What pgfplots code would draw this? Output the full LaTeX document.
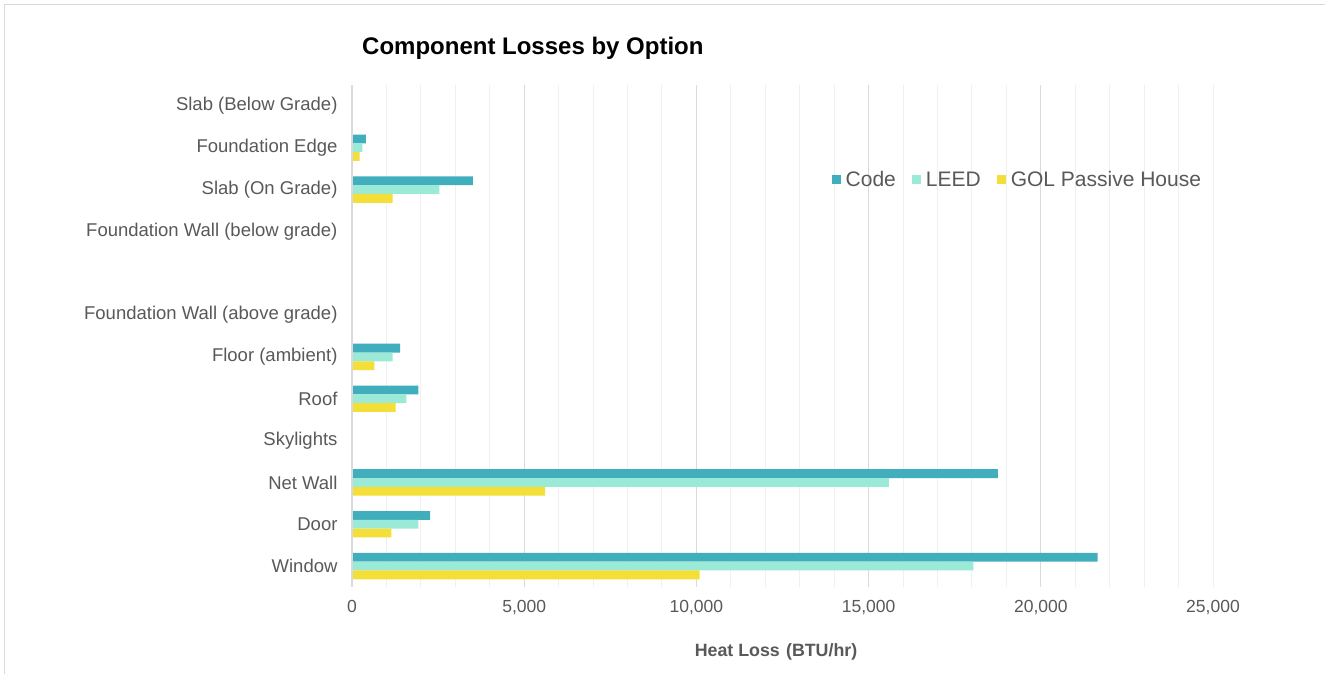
\documentclass[border=0pt]{standalone}
\usepackage{fontspec}
\setmainfont{Liberation Sans}
\usepackage{pgfplots}
\pgfplotsset{compat=1.18}

\definecolor{codecol}{HTML}{41AEBE}
\definecolor{leedcol}{HTML}{9AEAD7}
\definecolor{golcol}{HTML}{F4DE38}
\definecolor{txtgray}{HTML}{595959}
\definecolor{majgrid}{HTML}{D9D9D9}
\definecolor{mingrid}{HTML}{F0F0F0}
\definecolor{framecol}{HTML}{D9D9D9}

\begin{document}
\begin{tikzpicture}
  \useasboundingbox (0,0) rectangle (1325pt,674pt);
  \fill[white] (0,0) rectangle (1325pt,674pt);
  % chart area frame
  \draw[framecol, line width=1.5pt] (4.3pt,0) -- (4.3pt,669.5pt) -- (1325pt,669.5pt);
  % chart title
  \node[anchor=west, inner sep=0pt, font=\fontsize{24}{28}\selectfont\bfseries, text=black]
    at (362pt,626pt) {Component Losses by Option};

  \begin{axis}[
    at={(352pt,87pt)}, anchor=south west,
    scale only axis, width=861pt, height=502pt,
    xbar, bar width=8.8pt,
    xmin=0, xmax=25000,
    ymin=-0.5, ymax=11.5,
    xtick={0,5000,...,20000},
    minor xtick={1000,2000,...,24000},
    extra x ticks={25000},
    extra x tick style={major grid style={mingrid, line width=1pt}},
    xmajorgrids, xminorgrids,
    major grid style={majgrid, line width=1.2pt},
    minor grid style={mingrid, line width=1pt},
    major tick length=0pt, minor tick length=0pt,
    axis line style={draw=none},
    scaled x ticks=false,
    /pgf/number format/.cd, 1000 sep={,}, assume math mode=true, /pgfplots/.cd,
    ytick={0,...,11},
    yticklabels={Window, Door, Net Wall, Skylights, Roof, Floor (ambient),
      Foundation Wall (above grade), {}, Foundation Wall (below grade),
      Slab (On Grade), Foundation Edge, Slab (Below Grade)},
    xticklabel style={font=\fontsize{17.5}{20}\selectfont, text=txtgray, yshift=-10pt},
    yticklabel style={font=\fontsize{18.5}{21}\selectfont, text=txtgray, xshift=-11pt},
    xlabel={Heat Loss\hspace{0.35em}(BTU/hr)},
    xlabel style={font=\fontsize{17.8}{21}\selectfont\bfseries, text=txtgray,
      at={(rel axis cs:0.4925,0)}, anchor=center, yshift=-65pt},
    legend columns=3,
    legend style={at={(rel axis cs:0.5575,0.811)}, anchor=west, draw=none,
      fill=none, font=\fontsize{21}{25}\selectfont, text=txtgray,
      inner xsep=0pt, inner ysep=0pt,
      nodes={inner xsep=4.5pt},
      /tikz/every even column/.append style={column sep=12pt}},
    legend image code/.code={\fill[#1] (0pt,-4.5pt) rectangle (9pt,4.5pt);},
  ]
    % Code
    \addplot[draw=none, fill=codecol, bar shift=8.8pt] coordinates {
      (21650,0) (2270,1) (18750,2) (1930,4) (1400,5) (3510,9) (400,10)};
    % LEED
    \addplot[draw=none, fill=leedcol, bar shift=0pt] coordinates {
      (18040,0) (1930,1) (15590,2) (1580,4) (1180,5) (2540,9) (300,10)};
    % GOL Passive House
    \addplot[draw=none, fill=golcol, bar shift=-8.8pt] coordinates {
      (10090,0) (1140,1) (5610,2) (1270,4) (650,5) (1180,9) (220,10)};
    \legend{Code, LEED, GOL Passive House}
    % value axis baseline
    \draw[majgrid, line width=1.5pt] (rel axis cs:0,0) -- (rel axis cs:0,1);
  \end{axis}
\end{tikzpicture}
\end{document}
